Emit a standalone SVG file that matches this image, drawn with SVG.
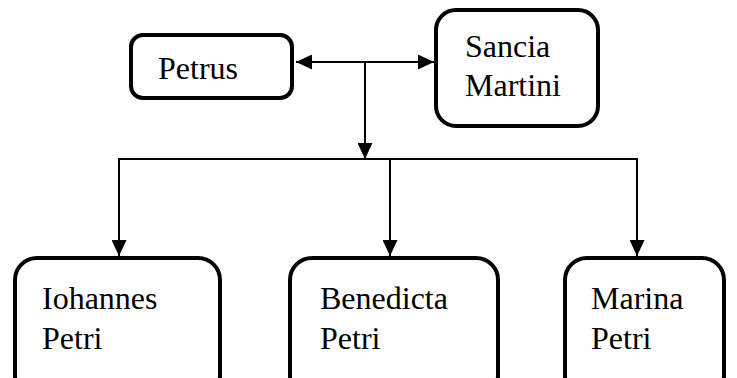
<svg xmlns="http://www.w3.org/2000/svg" width="737" height="378" viewBox="0 0 737 378">
<style>
.box{fill:#fff;stroke:#000;stroke-width:4}
.lbl{font-size:32px;fill:#000}
.con{fill:none;stroke:#000;stroke-width:2}
</style>
<defs>
<marker id="ah" markerUnits="userSpaceOnUse" markerWidth="17" markerHeight="15" viewBox="0 0 17 15" refX="16" refY="7.5" orient="auto-start-reverse">
<path d="M0,0 L16,7.5 L0,15 Z" fill="#000"/>
</marker>
</defs>
<rect width="737" height="378" fill="#fff"/>
<g id="connectors">
<line class="con" x1="296" y1="62" x2="434" y2="62" marker-start="url(#ah)" marker-end="url(#ah)"/>
<line class="con" x1="365" y1="62" x2="365" y2="159" marker-end="url(#ah)"/>
<polyline class="con" points="119,256 119,159 637,159 637,256" marker-start="url(#ah)" marker-end="url(#ah)"/>
<line class="con" x1="390" y1="159" x2="390" y2="256" marker-end="url(#ah)"/>
</g>
<g font-family="Liberation Serif, DejaVu Serif, serif">
<g id="petrus">
<rect class="box" x="131" y="35" width="161" height="63" rx="12"/>
<text class="lbl" x="158" y="79">Petrus</text>
</g>
<g id="sancia">
<rect class="box" x="436" y="10" width="162" height="116" rx="20"/>
<text class="lbl" x="465" y="57">Sancia</text>
<text class="lbl" x="465" y="96">Martini</text>
</g>
<g id="iohannes">
<rect class="box" x="15" y="258" width="205" height="140" rx="22"/>
<text class="lbl" x="42" y="309">Iohannes</text>
<text class="lbl" x="42" y="349">Petri</text>
</g>
<g id="benedicta">
<rect class="box" x="290" y="258" width="208" height="140" rx="22"/>
<text class="lbl" x="320" y="309">Benedicta</text>
<text class="lbl" x="320" y="349">Petri</text>
</g>
<g id="marina">
<rect class="box" x="565" y="258" width="159" height="140" rx="22"/>
<text class="lbl" x="591" y="309">Marina</text>
<text class="lbl" x="591" y="349">Petri</text>
</g>
</g>
</svg>
